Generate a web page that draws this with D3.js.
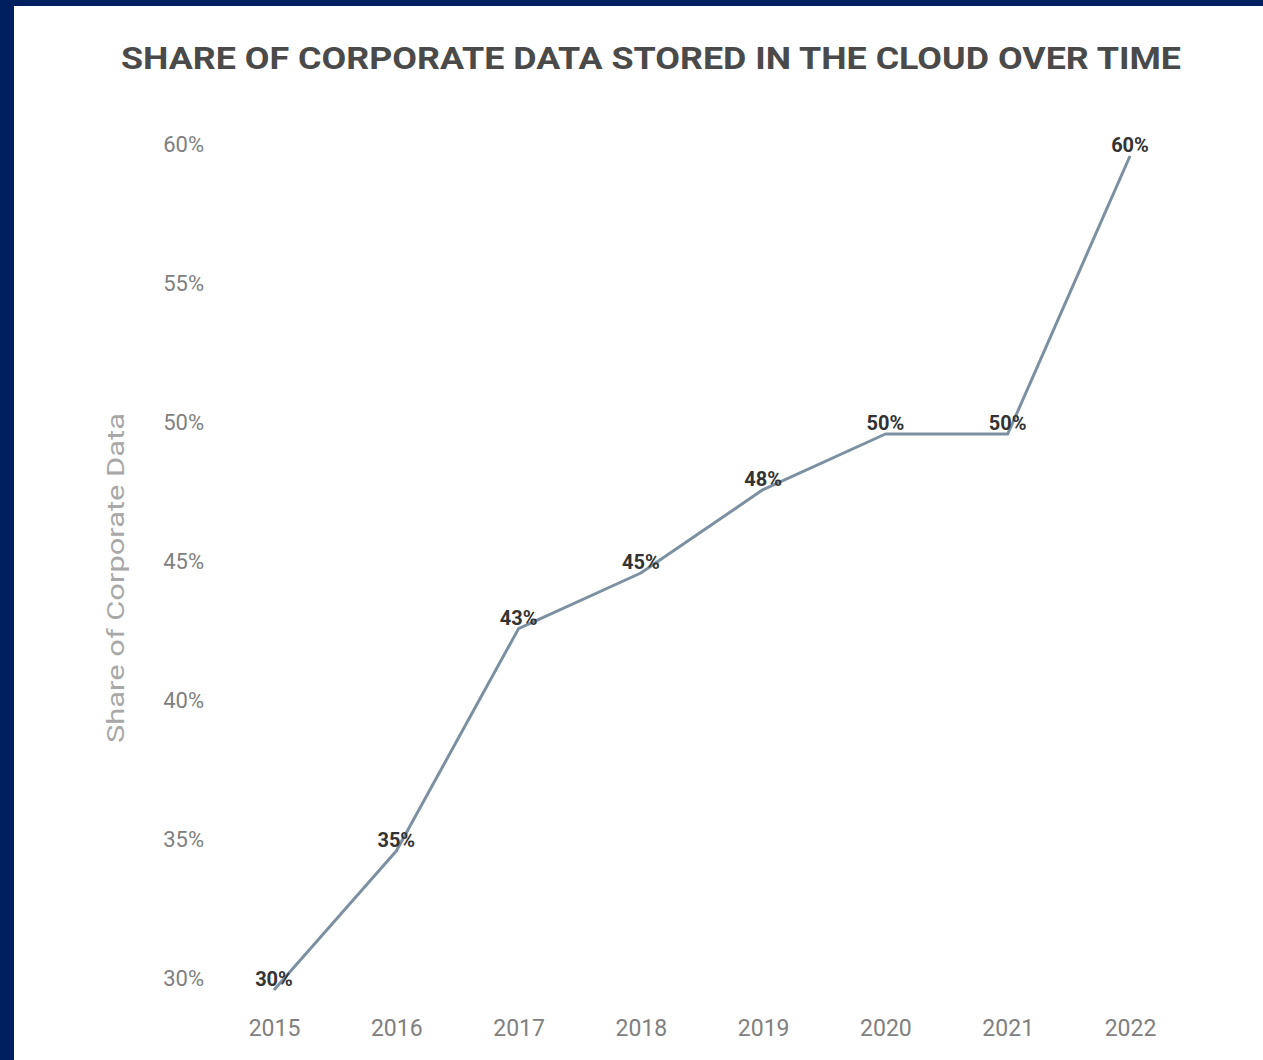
<!DOCTYPE html>
<html>
<head>
<meta charset="utf-8">
<script src="https://cdn.jsdelivr.net/npm/d3@7"></script>
<style>
  html, body { margin: 0; padding: 0; background: #001f5f; }
  svg { display: block; }
</style>
</head>
<body>
<script>
let years = [2015, 2016, 2017, 2018, 2019, 2020, 2021, 2022];
let shares = [30, 35, 43, 45, 48, 50, 50, 60];
let yTicks = [30, 35, 40, 45, 50, 55, 60];
let title = "SHARE OF CORPORATE DATA STORED IN THE CLOUD OVER TIME";
let yTitle = "Share of Corporate Data";

let w = 1263, h = 1060;
let svg = d3.select("body").append("svg")
  .attr("width", w).attr("height", h)
  .attr("viewBox", "0 0 " + w + " " + h);

let font = "Roboto, 'Noto Sans', sans-serif";

// navy frame with white panel
svg.append("rect").attr("width", w).attr("height", h).attr("fill", "#001f5f");
svg.append("rect").attr("x", 14).attr("y", 6).attr("width", w - 14).attr("height", h - 6).attr("fill", "#ffffff");

let scaleX = d3.scalePoint().domain(years).range([274, 1130]);
let scaleY = d3.scaleLinear().domain([30, 60]).range([990, 156]);

// title
svg.append("text")
  .text(title)
  .attr("x", 121).attr("y", 69)
  .attr("textLength", 1060).attr("lengthAdjust", "spacingAndGlyphs")
  .attr("font-family", font).attr("font-weight", 700)
  .attr("font-size", 31).attr("fill", "#4a4a4a");

// y axis
let yAxis = svg.append("g")
  .attr("transform", "translate(204,0)")
  .call(d3.axisLeft(scaleY).tickValues(yTicks).tickSize(0).tickPadding(0).tickFormat(d => d + "%"));
yAxis.select(".domain").remove();
yAxis.selectAll("text")
  .attr("font-family", font).attr("font-size", 22)
  .attr("fill", "#808080").attr("dy", "-0.2em");

svg.append("text")
  .text(yTitle)
  .attr("transform", "translate(124,578) rotate(-90)")
  .attr("text-anchor", "middle")
  .attr("textLength", 330).attr("lengthAdjust", "spacingAndGlyphs")
  .attr("font-family", font).attr("font-size", 23)
  .attr("fill", "#a8a8a8");

// x axis
let xAxis = svg.append("g")
  .attr("transform", "translate(0,1018)")
  .call(d3.axisBottom(scaleX).tickSize(0).tickPadding(0).tickFormat(d3.format("d")));
xAxis.select(".domain").remove();
xAxis.selectAll("text")
  .attr("font-family", font).attr("font-size", 23)
  .attr("fill", "#808080").attr("dy", "0.8em");

// line
let data = years.map((d, i) => ({ year: d, value: shares[i] }));
let line = d3.line().x(d => scaleX(d.year)).y(d => scaleY(d.value));
svg.append("path")
  .datum(data)
  .attr("d", line)
  .attr("fill", "none")
  .attr("stroke", "#7d90a2")
  .attr("stroke-width", 3)
  .attr("stroke-linejoin", "round");

// value labels
svg.selectAll(".vlabel").data(data).enter().append("text")
  .attr("class", "vlabel")
  .attr("x", d => scaleX(d.year))
  .attr("y", d => scaleY(d.value) - 4)
  .attr("text-anchor", "middle")
  .attr("font-family", font).attr("font-weight", 700)
  .attr("font-size", 20).attr("fill", "#333333")
  .text(d => d.value + "%");
</script>
</body>
</html>
